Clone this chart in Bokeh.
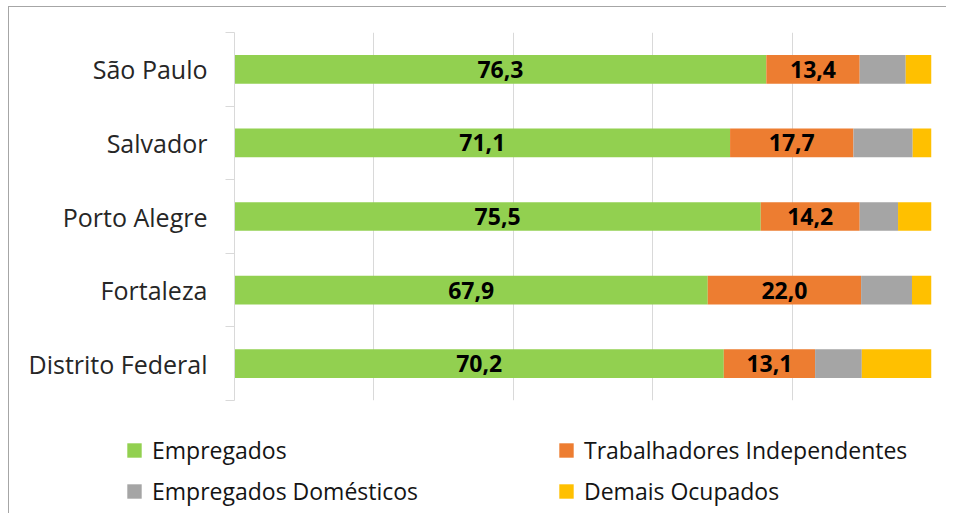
from bokeh.plotting import figure
from bokeh.models import (ColumnDataSource, FixedTicker, Range1d, Legend, LegendItem)
from bokeh.core.properties import value
from bokeh.embed import file_html
from bokeh.resources import INLINE

cidades = ["São Paulo", "Salvador", "Porto Alegre", "Fortaleza", "Distrito Federal"]
empregados = [76.3, 71.1, 75.5, 67.9, 70.2]
independentes = [13.4, 17.7, 14.2, 22.0, 13.1]
domesticos = [6.6, 8.5, 5.5, 7.3, 6.7]
demais = [3.7, 2.7, 4.8, 2.8, 10.0]
series_nomes = ["Empregados", "Trabalhadores Independentes", "Empregados Domésticos", "Demais Ocupados"]
cores = ["#92d050", "#ed7d31", "#a5a5a5", "#ffc000"]
x_ticks = [0, 20, 40, 60, 80, 100]

n = len(cidades)
ypos = [n - i - 0.5 for i in range(n)]
campos = ["emp", "ind", "dom", "dem"]

def make_source():
    return ColumnDataSource(dict(
        y=ypos, emp=empregados, ind=independentes, dom=domesticos, dem=demais,
    ))

p = figure(width=938, height=405, output_backend="svg", toolbar_location=None,
           x_range=Range1d(0, 100), y_range=Range1d(0, n),
           min_border_left=225, min_border_right=16, min_border_top=25, min_border_bottom=12)
p.outline_line_color = None
p.background_fill_color = "white"
p.border_fill_color = "white"
p.styles = {"border-top": "1px solid #a6a6a6", "border-left": "1px solid #a6a6a6",
            "margin-left": "8px", "margin-top": "6px"}

p.hbar_stack(campos, y="y", height=0.39, color=cores, line_color=None, source=make_source())

# value labels for first two series
lab_x, lab_y, lab_t = [], [], []
for i in range(n):
    lab_x.append(empregados[i] / 2)
    lab_y.append(ypos[i])
    lab_t.append(f"{empregados[i]:.1f}".replace(".", ","))
    lab_x.append(empregados[i] + independentes[i] / 2)
    lab_y.append(ypos[i])
    lab_t.append(f"{independentes[i]:.1f}".replace(".", ","))
p.text(x=lab_x, y=lab_y, text=lab_t, text_align="center", text_baseline="middle",
       text_font=value("Open Sans"), text_font_style="bold", text_font_size="23px",
       text_color="black")

# axes
p.xaxis.visible = False
p.xgrid.ticker = FixedTicker(ticks=x_ticks)
p.xgrid.grid_line_color = "#d9d9d9"
p.ygrid.grid_line_color = None

ya = p.yaxis[0]
ya.ticker = FixedTicker(ticks=ypos, minor_ticks=list(range(n + 1)))
ya.major_label_overrides = {ypos[i]: cidades[i] for i in range(n)}
ya.major_tick_line_color = None
ya.major_tick_out = 0
ya.major_tick_in = 0
ya.minor_tick_line_color = "#d9d9d9"
ya.minor_tick_out = 9
ya.minor_tick_in = 0
ya.axis_line_color = "#d9d9d9"
ya.major_label_standoff = 18
ya.major_label_text_font = "Open Sans"
ya.major_label_text_font_size = "25px"
ya.major_label_text_color = "#262626"

# legend strip (separate root so its frame spans the full width)
pl = figure(width=938, height=102, output_backend="svg", toolbar_location=None,
            x_range=Range1d(-2, -1), y_range=Range1d(-2, -1),
            x_axis_type=None, y_axis_type=None,
            min_border_left=0, min_border_right=0, min_border_top=0, min_border_bottom=0)
pl.outline_line_color = None
pl.background_fill_color = "white"
pl.border_fill_color = "white"
pl.xgrid.visible = False
pl.ygrid.visible = False
pl.styles = {"border-left": "1px solid #a6a6a6", "margin-left": "8px"}
leg_r = pl.hbar_stack(campos, y="y", height=0.39, color=cores, line_color=None,
                      source=make_source())

def make_legend(idx, loc):
    items = [LegendItem(label=series_nomes[k], renderers=[leg_r[k]]) for k in idx]
    return Legend(items=items, location=loc, orientation="vertical",
                  glyph_width=18, glyph_height=18, label_standoff=9,
                  label_text_font="Open Sans", label_text_font_size="23px",
                  label_text_color="#141414", padding=0, margin=0, spacing=9,
                  border_line_color=None, background_fill_alpha=0, label_height=14)

pl.add_layout(make_legend([0, 2], (116, 6)), "center")
pl.add_layout(make_legend([1, 3], (548, 6)), "center")

open("out.html", "w").write(file_html([p, pl], INLINE))
